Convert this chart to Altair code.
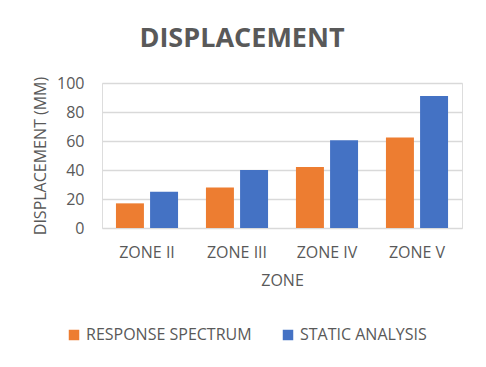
import altair as alt
import pandas as pd

zones = ["ZONE II", "ZONE III", "ZONE IV", "ZONE V"]
response_spectrum = [17, 28, 42, 62.5]
static_analysis = [25, 40, 60.5, 91]
series = ["RESPONSE SPECTRUM", "STATIC ANALYSIS"]
colors = ["#ED7D31", "#4472C4"]

rows = []
for z, r, s in zip(zones, response_spectrum, static_analysis):
    rows.append({"zone": z, "series": series[0], "value": r})
    rows.append({"zone": z, "series": series[1], "value": s})
df = pd.DataFrame(rows)

FONT = "Open Sans"
GREY = "#595959"

chart = alt.Chart(df).mark_bar().encode(
    x=alt.X("zone:N", sort=zones,
            scale=alt.Scale(paddingInner=0.31, paddingOuter=0.155),
            axis=alt.Axis(title="ZONE", labelAngle=0, labelFontSize=16, labelColor=GREY,
                          labelFont=FONT, titleFont=FONT, titleFontSize=16, titleColor=GREY,
                          titleFontWeight="normal", domain=False, ticks=False,
                          labelPadding=16, titlePadding=12)),
    xOffset=alt.XOffset("series:N", sort=series, scale=alt.Scale(paddingInner=0.18)),
    y=alt.Y("value:Q", scale=alt.Scale(domain=[0, 100]),
            axis=alt.Axis(title="DISPLACEMENT (MM)", values=[0, 20, 40, 60, 80, 100],
                          labelFontSize=16, labelColor=GREY, labelFont=FONT,
                          titleFont=FONT, titleFontSize=16, titleColor=GREY,
                          titleFontWeight="normal", domain=False, ticks=False,
                          gridColor="#D9D9D9", gridWidth=1.3, labelPadding=18,
                          titlePadding=8)),
    color=alt.Color("series:N", sort=series,
                    scale=alt.Scale(domain=series, range=colors),
                    legend=alt.Legend(title=None, orient="none", legendX=-36, legendY=244,
                                      direction="horizontal", symbolType="square",
                                      symbolSize=110, symbolStrokeWidth=0,
                                      labelFontSize=16, labelFont=FONT, labelColor=GREY,
                                      labelLimit=400, columnPadding=28, labelOffset=4)),
).properties(
    width=360, height=145,
    title=alt.TitleParams("DISPLACEMENT", font=FONT, fontSize=27, fontWeight="bold",
                          color=GREY, anchor="middle", dx=-40, offset=22),
    autosize=alt.AutoSizeParams(type="none"),
    padding={"left": 94, "top": 75, "right": 16, "bottom": 131},
).configure_view(stroke=None).configure(background="white")

chart.save("out.html", embed_options={"renderer": "svg", "actions": False})
